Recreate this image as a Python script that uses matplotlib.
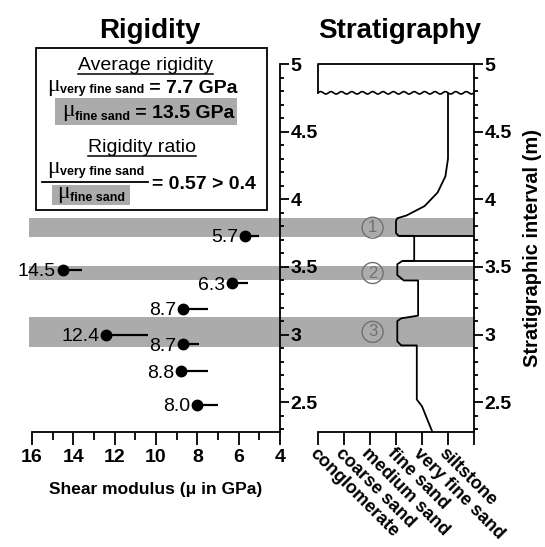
import numpy as np
import matplotlib
matplotlib.use("Agg")
import matplotlib.pyplot as plt
from matplotlib.ticker import MultipleLocator, FixedLocator
from matplotlib.patches import Rectangle
from matplotlib.lines import Line2D

plt.rcParams["font.family"] = ["Liberation Sans", "DejaVu Sans"]

# rigidity measurements (shear modulus, GPa) and their depth (m)
shear_mod = [5.7, 14.5, 6.3, 8.7, 12.4, 8.7, 8.8, 8.0]
dot_depth = [3.73, 3.48, 3.38, 3.19, 3.00, 2.93, 2.73, 2.48]
err_low = [0.7, 0.9, 0.75, 1.2, 2.0, 0.8, 1.3, 1.0]
dot_labels = ["5.7", "14.5", "6.3", "8.7", "12.4", "8.7", "8.8", "8.0"]

# fine sand beds (grey bands)
band_top = [3.86, 3.51, 3.13]
band_bot = [3.72, 3.40, 2.91]
band_ids = ["1", "2", "3"]

# grain size profile (0 = conglomerate ... 5 = siltstone)
grain_names = ["conglomerate", "coarse sand", "medium sand", "fine sand",
               "very fine sand", "siltstone", ""]
profile_grain = [5.0, 5.0, 4.9, 4.6, 4.1, 3.4, 3.05, 3.0, 3.0, 3.1, 3.7, 3.7,
                 3.25, 3.05, 3.05, 3.3, 3.85, 3.85, 3.2, 3.05, 3.05, 3.2, 3.8,
                 3.8, 4.0, 4.4]
profile_depth = [4.78, 4.30, 4.17, 4.05, 3.95, 3.88, 3.86, 3.84, 3.75, 3.73,
                 3.73, 3.545, 3.545, 3.52, 3.44, 3.40, 3.40, 3.14, 3.12, 3.10,
                 2.95, 2.92, 2.92, 2.52, 2.47, 2.28]
boundary_depth = [3.73, 3.545]
boundary_start = [3.1, 3.25]
unconformity_depth = 4.787

depth_ticks = [2.5, 3, 3.5, 4, 4.5, 5]
depth_labels = ["2.5", "3", "3.5", "4", "4.5", "5"]
mod_ticks = [16, 14, 12, 10, 8, 6, 4]

W, H = 545, 547
GREY = "#ababab"
fig = plt.figure(figsize=(W / 100, H / 100), dpi=100)

def fx(px):
    return px / W

def fy(py):
    return 1 - py / H

bottom, top = 432, 64
ax1 = fig.add_axes([fx(32), fy(bottom), (280 - 32) / W, (bottom - top) / H])
ax2 = fig.add_axes([fx(318), fy(bottom), (474 - 318) / W, (bottom - top) / H])
ax2.set_facecolor("none")

for ax in (ax1, ax2):
    ax.set_ylim(2.28, 5.0)
    for s in ("left", "top"):
        ax.spines[s].set_visible(False)
    for s in ("right", "bottom"):
        ax.spines[s].set_linewidth(1.3)
    ax.yaxis.tick_right()
    ax.yaxis.set_major_locator(FixedLocator(depth_ticks))
    ax.yaxis.set_minor_locator(MultipleLocator(0.1))
    ax.set_yticklabels(depth_labels, fontsize=14, fontweight="bold")
    ax.tick_params(axis="y", which="major", direction="out", length=6.5, width=1.3, pad=1)
    ax.tick_params(axis="y", which="minor", direction="out", length=3, width=1.3)
    ax.tick_params(axis="x", which="major", direction="out", length=9.5, width=1.3)
    ax.tick_params(axis="x", which="minor", direction="out", length=5.5, width=1.3)

# ---- Rigidity panel
ax1.set_xlim(16, 4)
ax1.xaxis.set_major_locator(FixedLocator(mod_ticks))
ax1.xaxis.set_minor_locator(MultipleLocator(1))
ax1.set_xticklabels([str(t) for t in mod_ticks], fontsize=14, fontweight="bold")
ax1.tick_params(axis="x", pad=3)
ax1.set_xlabel("Shear modulus (μ in GPa)", fontsize=12.5, fontweight="bold", labelpad=11)

for lo, hi in zip(band_bot, band_top):
    ax1.axhspan(lo, hi, xmin=-0.012, xmax=(474 - 32) / 248, color=GREY,
                lw=0, clip_on=False, zorder=0)

ax1.errorbar(shear_mod, dot_depth, xerr=[err_low, [0] * len(err_low)], fmt="o",
             color="black", ms=7.5, elinewidth=1.6, capsize=0, zorder=3)
for v, d, lab in zip(shear_mod, dot_depth, dot_labels):
    ax1.annotate(lab, (v, d), xytext=(-5, 0), textcoords="offset points",
                 ha="right", va="center_baseline", fontsize=14)

# ---- Stratigraphy panel
ax2.set_xlim(0, 6)
ax2.set_xticks(range(len(grain_names)))
ax2.set_xticklabels(grain_names, rotation=-45, ha="left", va="top",
                    rotation_mode="anchor", fontsize=13, fontweight="bold")
ax2.tick_params(axis="x", pad=0)
ax2.set_ylabel("Stratigraphic interval (m)", fontsize=14.5, fontweight="bold",
               labelpad=8)
ax2.yaxis.set_label_position("right")

ax2.plot(profile_grain, profile_depth, color="black", lw=1.3)
ax2.hlines(boundary_depth, boundary_start, 6, color="black", lw=1.3)

# unconformity box at the top
wx = np.linspace(0, 6, 400)
ax2.plot(wx, unconformity_depth + 0.009 * np.sin(2 * np.pi * wx / 0.4),
         color="black", lw=1.2)
ax2.plot([0, 0, 6], [unconformity_depth, 5.0, 5.0], color="black", lw=1.3,
         clip_on=False)

for lo, hi, n in zip(band_bot, band_top, band_ids):
    ax2.text(2.1, (lo + hi) / 2, n, ha="center", va="center", fontsize=12,
             color="#707070",
             bbox=dict(boxstyle="circle,pad=0.18", fc="none", ec="#707070", lw=1))

# ---- titles
fig.text(fx(150), fy(38), "Rigidity", ha="center", va="baseline",
         fontsize=20, fontweight="bold")
fig.text(fx(400), fy(38), "Stratigraphy", ha="center", va="baseline",
         fontsize=20, fontweight="bold")

# ---- info box
renderer = fig.canvas.get_renderer()

def put_row(x, base, pieces):
    for s, size, weight, fam, dy in pieces:
        t = fig.text(fx(x), fy(base + dy), s, fontsize=size, fontweight=weight,
                     family=fam, ha="left", va="baseline")
        x += t.get_window_extent(renderer).width
    return x

def underline(text, xc, base, uy):
    t = fig.text(fx(xc), fy(base), text, fontsize=14, ha="center", va="baseline")
    bb = t.get_window_extent(renderer)
    fig.add_artist(Line2D([bb.x0 / W, bb.x1 / W], [fy(uy), fy(uy)],
                          color="black", lw=1.1))

serif = ["Liberation Serif", "DejaVu Serif"]
sans = ["Liberation Sans", "DejaVu Sans"]

fig.add_artist(Rectangle((fx(36), fy(210)), (267 - 36) / W, (210 - 48) / H,
                         fill=False, ec="black", lw=1.3))
fig.add_artist(Rectangle((fx(55), fy(125)), (237 - 55) / W, (125 - 98) / H,
                         fc=GREY, ec="none"))
fig.add_artist(Rectangle((fx(52), fy(205)), (130 - 52) / W, (205 - 185) / H,
                         fc=GREY, ec="none"))

underline("Average rigidity", 145, 70, 73.5)
put_row(47, 93, [("μ", 17, "normal", serif, -2),
                 ("very fine sand", 9, "bold", sans, 0),
                 (" = 7.7 GPa", 14, "bold", sans, 0)])
put_row(62, 118, [("μ", 17, "normal", serif, -2),
                  ("fine sand", 9, "bold", sans, 2),
                  (" = 13.5 GPa", 14, "bold", sans, 0)])
underline("Rigidity ratio", 142, 152, 155.5)
put_row(47, 175, [("μ", 17, "normal", serif, -2),
                  ("very fine sand", 9, "bold", sans, 0)])
fig.add_artist(Line2D([fx(42), fx(148)], [fy(182), fy(182)], color="black", lw=1.3))
put_row(57, 200, [("μ", 17, "normal", serif, -2),
                  ("fine sand", 9, "bold", sans, 1)])
put_row(152, 189, [("= 0.57 > 0.4", 14, "bold", sans, 0)])

fig.savefig("out.png", dpi=100)
